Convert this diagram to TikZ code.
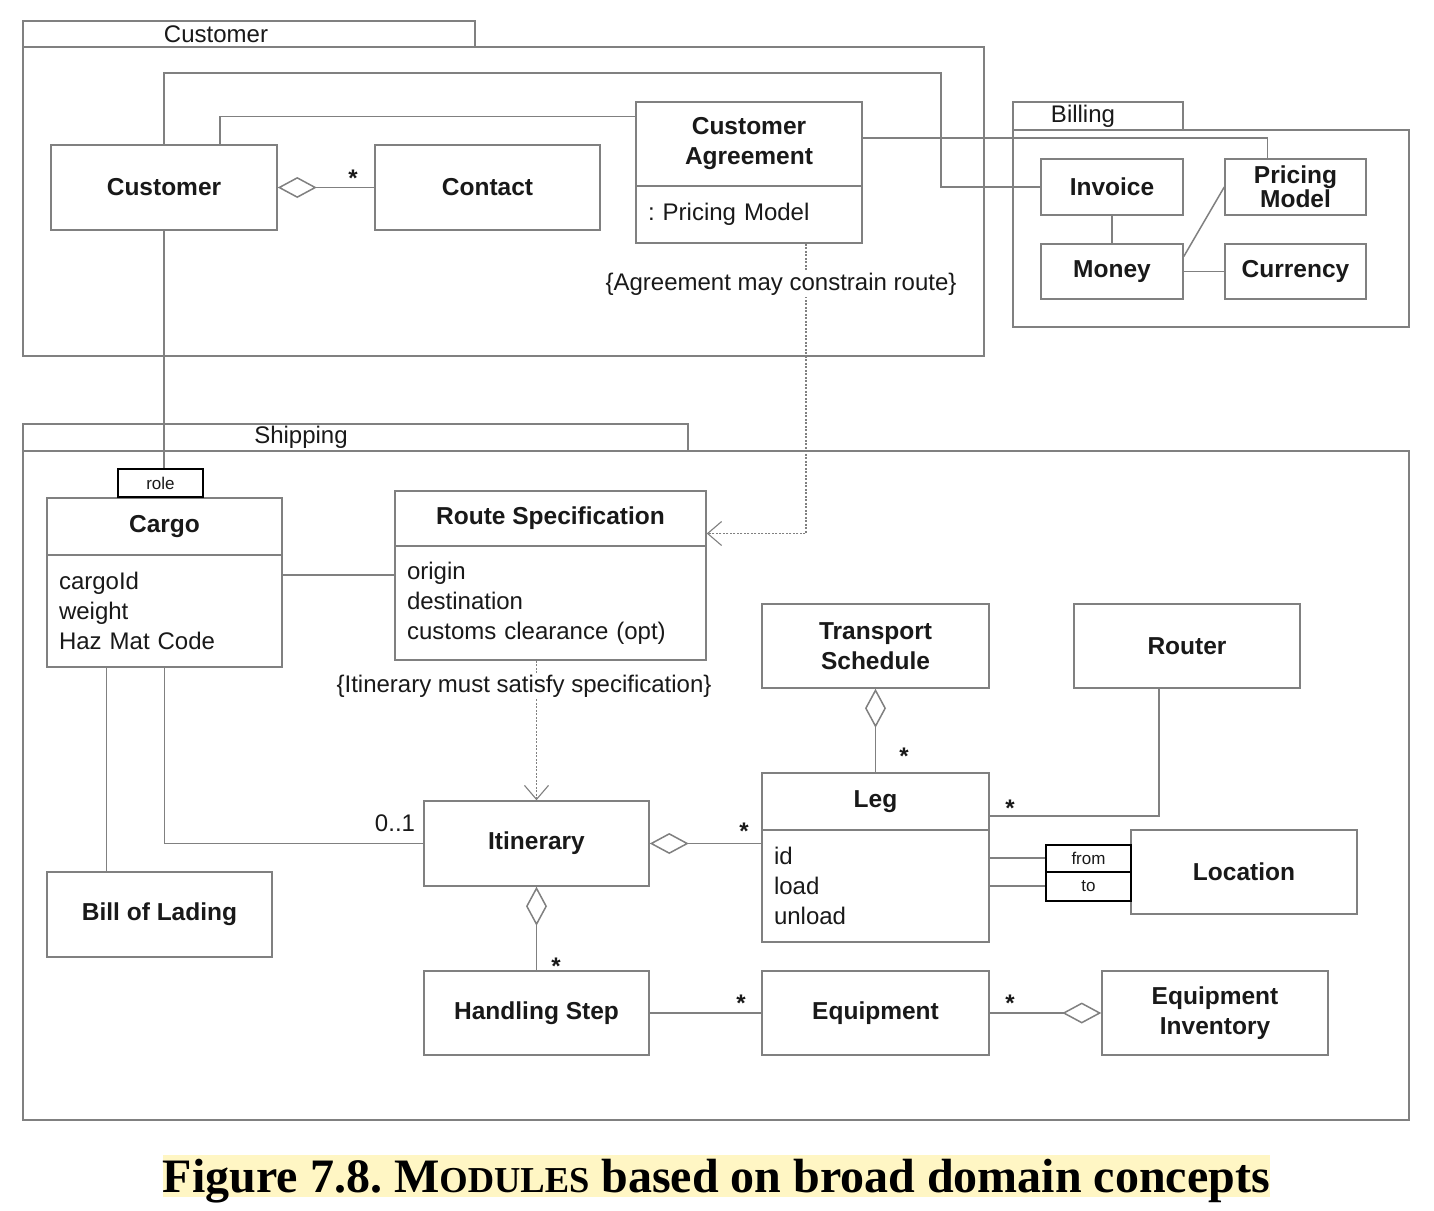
\documentclass[tikz,border=0pt]{standalone}
\usepackage{fontspec}
\setmainfont{Liberation Sans}
\newfontfamily\capfont{Liberation Serif}
\usetikzlibrary{arrows.meta}
\definecolor{linec}{gray}{0.5}
\definecolor{boxc}{gray}{0.5}
\definecolor{txt}{gray}{0.1}
\definecolor{hilite}{RGB}{255,246,196}
\frenchspacing
\begin{document}
\begin{tikzpicture}[x=1pt,y=-1pt,
  every node/.style={text=txt},
  cls/.style={draw=boxc, line width=1.5pt, fill=white, inner sep=0pt, align=center, font=\bfseries\fontsize{24.5}{30}\selectfont},
  attrs/.style={draw=boxc, line width=1.5pt, fill=white, inner xsep=12pt, inner ysep=0pt, align=left, font=\fontsize{24}{30}\selectfont},
  tag/.style={draw=black, line width=2pt, fill=white, inner sep=0pt, font=\fontsize{17}{20}\selectfont},
  pkg/.style={draw=boxc, line width=1.5pt},
  pkglabel/.style={font=\fontsize{24}{28}\selectfont},
  conn/.style={draw=linec, line width=1.5pt},
  agg/.style={conn, {Diamond[open, length=39pt, width=21pt]}-},
  aggend/.style={conn, -{Diamond[open, length=39pt, width=21pt]}},
  dep/.style={draw=linec, line width=1.1pt, dash pattern=on 2pt off 1.5pt, -{Straight Barb[length=14pt, width=24pt]}},
  mult/.style={font=\bfseries\fontsize{24}{28}\selectfont, anchor=base},
  note/.style={fill=white, inner sep=2pt, font=\fontsize{24}{28}\selectfont},
]
\fill[white] (0,0) rectangle (1434,1210);
\useasboundingbox (0,0) rectangle (1434,1210);

% packages
\draw[pkg] (23,21) rectangle (475,47);
\draw[pkg] (23,47) rectangle (984,356);
\node[pkglabel] (pkcust) at (216,34) {Customer};
\draw[pkg] (1013,102) rectangle (1183,130);
\draw[pkg] (1013,130) rectangle (1409,327);
\node[pkglabel] (pkbill) at (1083,116) {Billing};
\draw[pkg] (23,424) rectangle (688,451);
\draw[pkg] (23,451) rectangle (1409,1120);
\node[pkglabel] (pkship) at (301,437) {Shipping};

% Customer package classes
\node[cls, minimum width=226pt, minimum height=85pt] (cust) at (164,187.5) {Customer};
\node[cls, minimum width=225pt, minimum height=85pt] (contact) at (487.5,187.5) {Contact};
\node[cls, minimum width=226pt, minimum height=84pt] (cat) at (749,144) {Customer\\Agreement};
\node[attrs, minimum width=226pt, minimum height=57pt, text width=202pt] (caa) at (749,214.5) {: Pricing Model};

% Billing classes
\node[cls, minimum width=142pt, minimum height=56pt] (inv) at (1112,187) {Invoice};
\node[cls, minimum width=141pt, minimum height=56pt] (pm) at (1295.5,187) {Pricing\\[-6pt]Model};
\node[cls, minimum width=142pt, minimum height=55pt] (money) at (1112,271.5) {Money};
\node[cls, minimum width=141pt, minimum height=55pt] (cur) at (1295.5,271.5) {Currency};

% Shipping classes
\node[cls, minimum width=235pt, minimum height=57pt] (cargot) at (164.5,526.5) {Cargo};
\node[attrs, minimum width=235pt, minimum height=112pt, text width=211pt] (cargoa) at (164.5,611) {cargoId\\weight\\Haz Mat Code};
\node[tag, minimum width=85pt, minimum height=28pt] (role) at (160.5,483) {role};
\node[cls, minimum width=311pt, minimum height=55pt] (rst) at (550.5,518.5) {Route Specification};
\node[attrs, minimum width=311pt, minimum height=114pt, text width=287pt] (rsa) at (550.5,603) {origin\\destination\\customs clearance (opt)};
\node[cls, minimum width=225pt, minimum height=85pt] (itin) at (536.5,843.5) {Itinerary};
\node[cls, minimum width=225pt, minimum height=85pt] (bol) at (159.5,914.5) {Bill of Lading};
\node[cls, minimum width=225pt, minimum height=84pt] (hs) at (536.5,1013) {Handling Step};
\node[cls, minimum width=227pt, minimum height=84pt] (eq) at (875.5,1013) {Equipment};
\node[cls, minimum width=226pt, minimum height=84pt] (ei) at (1215,1013) {Equipment\\Inventory};
\node[cls, minimum width=227pt, minimum height=84pt] (ts) at (875.5,646) {Transport\\Schedule};
\node[cls, minimum width=226pt, minimum height=84pt] (router) at (1187,646) {Router};
\node[cls, minimum width=227pt, minimum height=57pt] (legt) at (875.5,801.5) {Leg};
\node[attrs, minimum width=227pt, minimum height=112pt, text width=203pt] (lega) at (875.5,886) {id\\load\\unload};
\node[cls, minimum width=226pt, minimum height=84pt] (loc) at (1244,872) {Location};
\node[tag, minimum width=85pt, minimum height=27pt] (from) at (1088.5,858) {from};
\node[tag, minimum width=85pt, minimum height=29pt] (to) at (1088.5,886) {to};

% Customer package connectors
\draw[agg] (cust.east) -- (contact.west);
\coordinate (c1) at (941,73);
\draw[conn] (cust.north) |- (c1) |- (inv.west);
\draw[conn] ([xshift=56pt]cust.north) |- ([yshift=-15pt]cat.north west);
\draw[conn] ([yshift=6pt]cat.east) -| ([xshift=-28pt]pm.north);
\draw[conn] (inv.south) -- (money.north);
\draw[conn] ([yshift=15pt]money.east) -- (pm.west);
\draw[conn] (money.east) -- (cur.west);
\draw[dep] ([xshift=57pt]caa.south) |- ([yshift=-15pt]rst.east);
\node[note] (n1) at (781,284) {\{Agreement may constrain route\}};

% Shipping connectors
\draw[conn] (cust.south) -- (cust.south |- role.north);
\draw[conn] ([yshift=36pt]cargoa.east) -- ([yshift=36pt]cargoa.east -| rsa.west);
\draw[conn] (cargoa.south) |- (itin.west);
\draw[conn] ([xshift=-58pt]cargoa.south) -- ([xshift=-58pt]cargoa.south |- bol.north);
\draw[dep] (itin.north |- rsa.south) -- (itin.north);
\node[note] (n2) at (524,686) {\{Itinerary must satisfy specification\}};
\draw[agg] (itin.east) -- (itin.east -| lega.west);
\draw[agg] (itin.south) -- (hs.north);
\draw[conn] (hs.east) -- (eq.west);
\draw[aggend] (eq.east) -- (ei.west);
\draw[agg] (ts.south) -- (legt.north);
\draw[conn] ([xshift=-28pt]router.south) |- ([yshift=-14.5pt]legt.east);
\draw[conn] (from.west -| lega.east) -- (from.west);
\draw[conn] (to.west -| lega.east) -- (to.west);

% multiplicities
\node[mult] (m1) at (353,186) {*};
\node[mult] (m2) at (744,839) {*};
\node[mult] (m3) at (904,764) {*};
\node[mult] (m4) at (1010,816) {*};
\node[mult] (m5) at (556,974) {*};
\node[mult] (m6) at (741,1011) {*};
\node[mult] (m7) at (1010,1011) {*};
\node[font=\fontsize{24}{28}\selectfont] (m8) at (395,823) {0..1};

% caption
\node[fill=hilite, minimum width=1107pt, minimum height=42pt, inner sep=0pt, text=black, text depth=0pt,
  font=\capfont\bfseries\fontsize{48}{52}\selectfont] (cap) at (716.5,1176)
  {Figure 7.8. M{\fontsize{36.5}{40}\selectfont ODULES} based on broad domain concepts};
\end{tikzpicture}
\end{document}
